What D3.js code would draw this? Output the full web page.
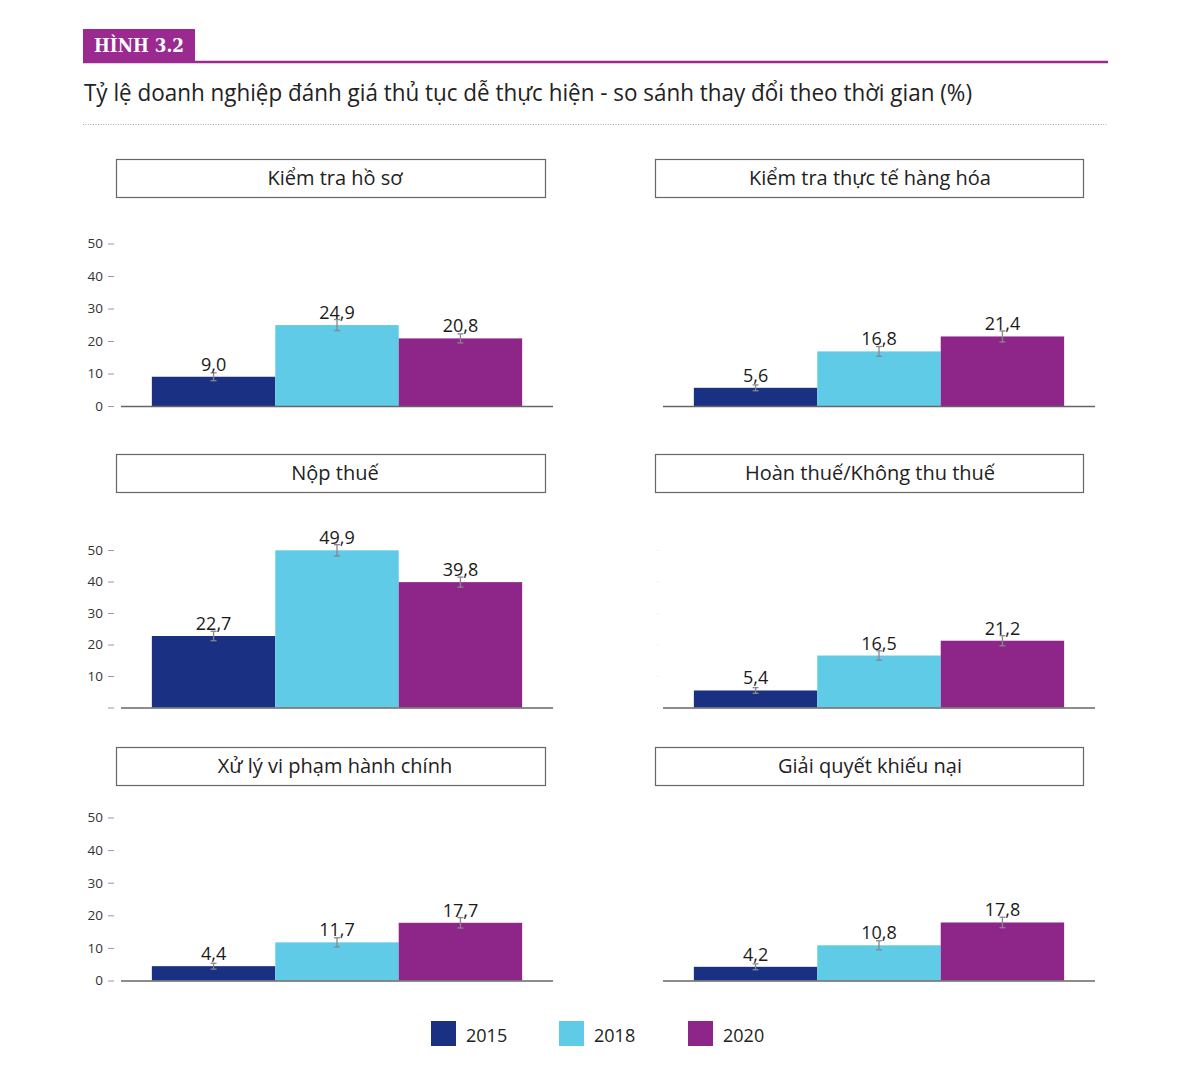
<!DOCTYPE html>
<html>
<head>
<meta charset="utf-8">
<script src="https://cdn.jsdelivr.net/npm/d3@7"></script>
<style>
  html, body { margin: 0; padding: 0; background: #fff; }
  svg { display: block; }
  text { font-family: "Open Sans", "Noto Sans", sans-serif; }
</style>
</head>
<body>
<svg id="chart" width="1200" height="1077"></svg>
<script>
// ---------- data ----------
const years = ["2015", "2018", "2020"];
const panelTitles = [
  "Kiểm tra hồ sơ",
  "Kiểm tra thực tế hàng hóa",
  "Nộp thuế",
  "Hoàn thuế/Không thu thuế",
  "Xử lý vi phạm hành chính",
  "Giải quyết khiếu nại"
];
const values2015 = [9.0, 5.6, 22.7, 5.4, 4.4, 4.2];
const values2018 = [24.9, 16.8, 49.9, 16.5, 11.7, 10.8];
const values2020 = [20.8, 21.4, 39.8, 21.2, 17.7, 17.8];
const err2015 = [1.2, 0.9, 1.5, 0.9, 0.9, 0.9];
const err2018 = [1.7, 1.5, 1.8, 1.5, 1.4, 1.4];
const err2020 = [1.4, 1.7, 1.6, 1.6, 1.6, 1.6];
const yTicks = [0, 10, 20, 30, 40, 50];
const headerLabel = "HÌNH 3.2";
const chartTitle = "Tỷ lệ doanh nghiệp đánh giá thủ tục dễ thực hiện - so sánh thay đổi theo thời gian (%)";

// ---------- styles ----------
const colors = { "2015": "#1a3082", "2018": "#5fcbe7", "2020": "#8e2689" };
const purple = "#9a2a8f";

const svg = d3.select("#chart");

// header
svg.append("rect").attr("x", 83).attr("y", 29).attr("width", 112).attr("height", 33).attr("fill", purple);
svg.append("text").attr("x", 139).attr("y", 52).attr("text-anchor", "middle")
  .attr("fill", "#fff").attr("font-size", 18).attr("font-weight", "bold")
  .style("font-family", "'DejaVu Serif', serif")
  .attr("textLength", 90).attr("lengthAdjust", "spacingAndGlyphs")
  .text(headerLabel);
svg.append("line").attr("x1", 83).attr("x2", 1108).attr("y1", 62).attr("y2", 62)
  .attr("stroke", purple).attr("stroke-width", 2.5);
svg.append("text").attr("x", 84).attr("y", 101).attr("fill", "#222")
  .attr("font-size", 24).attr("textLength", 888).attr("lengthAdjust", "spacingAndGlyphs")
  .text(chartTitle);
svg.append("line").attr("x1", 83).attr("x2", 1108).attr("y1", 124.5).attr("y2", 124.5)
  .attr("stroke", "#aaa").attr("stroke-width", 1).attr("stroke-dasharray", "1,1.5");

// layout
const boxX = [116, 655];
const boxW = [429, 428];
const textCX = [335, 870];
const plotX = [121, 663];
const plotW = 432;
const boxY = [159, 454, 747];
const boxH = 38;
const baseY = [406, 707.5, 980.5];
const scaleH = [162.5, 157.5, 163];
const showAxis = [true, false];

const series = [
  { year: "2015", vals: values2015, errs: err2015 },
  { year: "2018", vals: values2018, errs: err2018 },
  { year: "2020", vals: values2020, errs: err2020 }
];

const x = d3.scaleBand().domain(years).range([0, plotW]).paddingInner(0).paddingOuter(0.25);

panelTitles.forEach((title, i) => {
  const row = Math.floor(i / 2), col = i % 2;
  const g = svg.append("g");
  // title box
  g.append("rect").attr("x", boxX[col] + 0.5).attr("y", boxY[row] + 0.5)
    .attr("width", boxW[col]).attr("height", boxH)
    .attr("fill", "#fff").attr("stroke", "#666").attr("stroke-width", 1.2);
  g.append("text").attr("x", textCX[col]).attr("y", boxY[row] + 26)
    .attr("text-anchor", "middle").attr("fill", "#222").attr("font-size", 20).text(title);

  const y = d3.scaleLinear().domain([0, 50]).range([baseY[row], baseY[row] - scaleH[row]]);
  const pg = g.append("g").attr("transform", `translate(${plotX[col]},0)`);

  // y axis
  if (showAxis[col]) {
    const ax = svg.append("g").attr("transform", `translate(114,0)`)
      .call(d3.axisLeft(y).tickValues(yTicks).tickSize(6).tickPadding(5)
        .tickFormat(d => (row === 1 && d === 0) ? "" : d));
    ax.select(".domain").remove();
    ax.selectAll(".tick line").attr("stroke", "#999");
    ax.selectAll(".tick text").attr("fill", "#333").attr("font-size", 13.5)
      .style("font-family", "'Open Sans', sans-serif");
  } else if (row === 1) {
    const ax = svg.append("g").attr("transform", `translate(658,0)`)
      .call(d3.axisLeft(y).tickValues(yTicks).tickSize(1).tickFormat(""));
    ax.select(".domain").remove();
    ax.selectAll(".tick line").attr("stroke", "#ddd");
  }

  // bars
  series.forEach(s => {
    const v = s.vals[i], e = s.errs[i];
    const bx = x(s.year), bw = x.bandwidth();
    pg.append("rect").attr("x", bx).attr("y", y(v)).attr("width", bw)
      .attr("height", y(0) - y(v)).attr("fill", colors[s.year]);
    const cx = bx + bw / 2;
    // error bar
    pg.append("line").attr("x1", cx).attr("x2", cx).attr("y1", y(v + e)).attr("y2", y(v - e))
      .attr("stroke", "#888").attr("stroke-width", 1.3);
    [v + e, v - e].forEach(t => {
      pg.append("line").attr("x1", cx - 3).attr("x2", cx + 3).attr("y1", y(t)).attr("y2", y(t))
        .attr("stroke", "#888").attr("stroke-width", 1.3);
    });
    // label
    pg.append("text").attr("x", cx).attr("y", y(v) - 6).attr("text-anchor", "middle")
      .attr("fill", "#1a1a1a").attr("font-size", 18).text(d3.format(".1f")(v).replace(".", ","));
  });

  // baseline
  pg.append("line").attr("x1", 0).attr("x2", plotW).attr("y1", y(0) + 0.5).attr("y2", y(0) + 0.5)
    .attr("stroke", "#666").attr("stroke-width", 1.5);
});

// legend
const legX = [431, 559, 688];
years.forEach((yr, k) => {
  svg.append("rect").attr("x", legX[k]).attr("y", 1021).attr("width", 25).attr("height", 25)
    .attr("fill", colors[yr]);
  svg.append("text").attr("x", legX[k] + 35).attr("y", 1042).attr("fill", "#222")
    .attr("font-size", 18).text(yr);
});
</script>
</body>
</html>
